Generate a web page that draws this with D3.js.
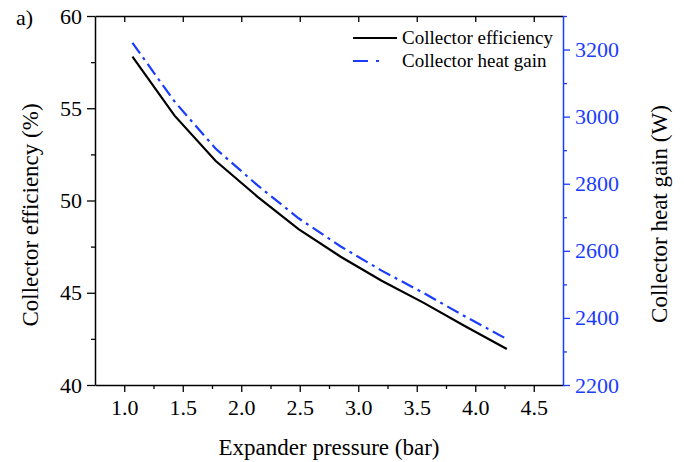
<!DOCTYPE html>
<html>
<head>
<meta charset="utf-8">
<script src="https://cdn.jsdelivr.net/npm/d3@7"></script>
<style>
  body { margin: 0; background: #fff; }
</style>
</head>
<body>
<div id="chart"></div>
<script>
// Expander pressure (bar) at each computed point
var pressure = [1.07, 1.43, 1.78, 2.14, 2.49, 2.85, 3.20, 3.56, 3.91, 4.27];
// Collector efficiency (%)
var efficiency = [57.8, 54.6, 52.15, 50.2, 48.45, 46.95, 45.65, 44.45, 43.2, 41.95];
// Collector heat gain (W)
var heatGain = [3220, 3045, 2905, 2795, 2697, 2613, 2541, 2474, 2405, 2337];

var xTicks = [1.0, 1.5, 2.0, 2.5, 3.0, 3.5, 4.0, 4.5];
var xMinor = [1.25, 1.75, 2.25, 2.75, 3.25, 3.75, 4.25];
var leftTicks = [40, 45, 50, 55, 60];
var leftMinor = [42.5, 47.5, 52.5, 57.5];
var rightTicks = [2200, 2400, 2600, 2800, 3000, 3200];
var rightMinor = [2300, 2500, 2700, 2900, 3100, 3300];

var width = 684, height = 462;
var blue = "#1a3cff";
var serif = "'Liberation Serif', 'Times New Roman', Times, serif";
var tickFont = 22;

var m = {left: 95, right: 563, top: 16, bottom: 385};

var svg = d3.select("#chart").append("svg")
    .attr("width", width)
    .attr("height", height)
    .attr("font-family", serif);

var x = d3.scaleLinear().domain([0.75, 4.75]).range([m.left, m.right]);
var yL = d3.scaleLinear().domain([40, 60]).range([m.bottom, m.top]);
var yR = d3.scaleLinear().domain([2200, 3300]).range([m.bottom, m.top]);

function styleAxis(g, color) {
  g.attr("font-family", serif).attr("font-size", tickFont);
  g.select(".domain").attr("stroke", color).attr("stroke-width", 1.5);
  g.selectAll(".tick line").attr("stroke", color).attr("stroke-width", 1.3);
  g.selectAll(".tick text").attr("fill", color);
}

// bottom axis
var gx = svg.append("g").attr("transform", "translate(0," + m.bottom + ")")
    .call(d3.axisBottom(x).tickValues(xTicks).tickFormat(d3.format(".1f"))
      .tickSize(7).tickSizeOuter(0).tickPadding(7));
styleAxis(gx, "#000");
svg.append("g").attr("transform", "translate(0," + m.bottom + ")")
    .call(d3.axisBottom(x).tickValues(xMinor).tickFormat("").tickSize(4).tickSizeOuter(0))
    .call(function(g) { g.select(".domain").remove(); styleAxis(g, "#000"); });

// top axis (inward major ticks only)
var gt = svg.append("g").attr("transform", "translate(0," + m.top + ")")
    .call(d3.axisBottom(x).tickValues(xTicks).tickFormat("").tickSize(6).tickSizeOuter(0));
styleAxis(gt, "#000");

// left axis
var gl = svg.append("g").attr("transform", "translate(" + m.left + ",0)")
    .call(d3.axisLeft(yL).tickValues(leftTicks).tickSize(8).tickSizeOuter(0).tickPadding(5));
styleAxis(gl, "#000");
svg.append("g").attr("transform", "translate(" + m.left + ",0)")
    .call(d3.axisLeft(yL).tickValues(leftMinor).tickFormat("").tickSize(4).tickSizeOuter(0))
    .call(function(g) { g.select(".domain").remove(); styleAxis(g, "#000"); });

// right axis (blue)
var gr = svg.append("g").attr("transform", "translate(" + m.right + ",0)")
    .call(d3.axisRight(yR).tickValues(rightTicks).tickFormat(d3.format("d"))
      .tickSize(7).tickSizeOuter(0).tickPadding(5));
styleAxis(gr, blue);
svg.append("g").attr("transform", "translate(" + m.right + ",0)")
    .call(d3.axisRight(yR).tickValues(rightMinor).tickFormat("").tickSize(4).tickSizeOuter(0))
    .call(function(g) { g.select(".domain").remove(); styleAxis(g, blue); });

// lines
var lineEff = d3.line().x(function(d, i) { return x(pressure[i]); })
    .y(function(d) { return yL(d); });
var lineHeat = d3.line().x(function(d, i) { return x(pressure[i]); })
    .y(function(d) { return yR(d); });

svg.append("path").datum(heatGain)
    .attr("d", lineHeat)
    .attr("fill", "none")
    .attr("stroke", blue)
    .attr("stroke-width", 2.2)
    .attr("stroke-dasharray", "13,5,3,5");

svg.append("path").datum(efficiency)
    .attr("d", lineEff)
    .attr("fill", "none")
    .attr("stroke", "#000")
    .attr("stroke-width", 2.2);

// legend
var leg = svg.append("g");
leg.append("line").attr("x1", 353).attr("x2", 397).attr("y1", 38).attr("y2", 38)
    .attr("stroke", "#000").attr("stroke-width", 2.2);
leg.append("line").attr("x1", 353).attr("x2", 397).attr("y1", 61).attr("y2", 61)
    .attr("stroke", blue).attr("stroke-width", 2.2).attr("stroke-dasharray", "15,8,3,30");
leg.append("text").attr("x", 402).attr("y", 44).attr("font-size", 19)
    .text("Collector efficiency");
leg.append("text").attr("x", 402).attr("y", 67).attr("font-size", 19)
    .text("Collector heat gain");

// axis titles
svg.append("text").attr("x", (m.left + m.right) / 2).attr("y", 455)
    .attr("text-anchor", "middle").attr("font-size", 23)
    .text("Expander pressure (bar)");
svg.append("text")
    .attr("transform", "translate(38,215) rotate(-90)")
    .attr("text-anchor", "middle").attr("font-size", 23)
    .text("Collector efficiency (%)");
svg.append("text")
    .attr("transform", "translate(667,214) rotate(-90)")
    .attr("text-anchor", "middle").attr("font-size", 23)
    .text("Collector heat gain (W)");

// panel label
svg.append("text").attr("x", 16).attr("y", 25).attr("font-size", 22).text("a)");
</script>
</body>
</html>
